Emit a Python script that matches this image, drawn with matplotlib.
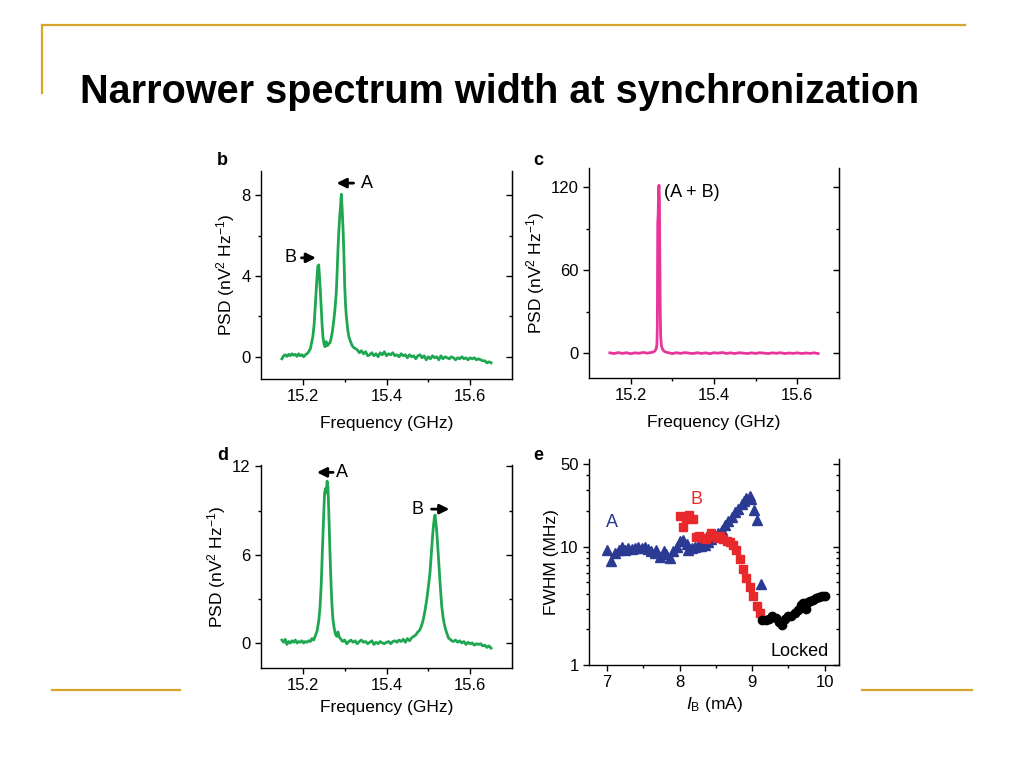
import matplotlib
matplotlib.use("Agg")
import matplotlib.pyplot as plt
from matplotlib.lines import Line2D
from matplotlib.ticker import FixedLocator, NullFormatter

plt.rcParams['font.family'] = ['Liberation Sans', 'DejaVu Sans']
plt.rcParams['mathtext.fontset'] = 'custom'
plt.rcParams['mathtext.rm'] = 'Liberation Sans'
plt.rcParams['mathtext.it'] = 'Liberation Sans:italic'
plt.rcParams['mathtext.default'] = 'regular'

# --- data ---

# panel b: two free-running oscillators
b_freq = [15.150, 15.154, 15.158, 15.162, 15.166, 15.170, 15.174, 15.178, 15.182, 15.186,
          15.190, 15.194, 15.198, 15.202, 15.206, 15.210, 15.214, 15.218, 15.221, 15.224,
          15.227, 15.230, 15.232, 15.234, 15.236, 15.238, 15.240, 15.242, 15.244, 15.246,
          15.248, 15.250, 15.253, 15.256, 15.259, 15.262, 15.265, 15.268, 15.271, 15.274,
          15.277, 15.280, 15.282, 15.284, 15.286, 15.288, 15.290, 15.292, 15.294, 15.296,
          15.298, 15.300, 15.302, 15.304, 15.307, 15.310, 15.314, 15.318, 15.322, 15.326,
          15.330, 15.335, 15.340, 15.345, 15.350, 15.355, 15.360, 15.365, 15.370, 15.375,
          15.380, 15.385, 15.390, 15.395, 15.400, 15.405, 15.410, 15.415, 15.420, 15.425,
          15.430, 15.435, 15.440, 15.445, 15.450, 15.455, 15.460, 15.465, 15.470, 15.475,
          15.480, 15.485, 15.490, 15.495, 15.500, 15.505, 15.510, 15.515, 15.520, 15.525,
          15.530, 15.535, 15.540, 15.545, 15.550, 15.555, 15.560, 15.565, 15.570, 15.575,
          15.580, 15.585, 15.590, 15.595, 15.600, 15.605, 15.610, 15.615, 15.620, 15.625,
          15.630, 15.635, 15.640, 15.645, 15.650]
b_psd = [-0.10, 0.05, 0.10, 0.02, 0.12, 0.05, 0.15, 0.08, 0.12, 0.02,
         0.15, 0.05, 0.10, 0.00, 0.10, 0.15, 0.25, 0.40, 0.70, 1.00,
         1.60, 2.60, 3.30, 4.00, 4.50, 4.55, 3.90, 3.20, 2.40, 1.60,
         1.00, 0.70, 0.50, 0.75, 0.55, 0.65, 0.70, 0.95, 1.30, 1.80,
         2.40, 3.20, 4.20, 5.30, 6.20, 6.90, 7.40, 8.05, 7.30, 6.40,
         5.20, 3.60, 2.60, 2.00, 1.40, 1.00, 0.75, 0.55, 0.45, 0.40,
         0.35, 0.20, 0.30, 0.15, 0.25, 0.05, 0.10, 0.20, 0.05, 0.15,
         0.00, 0.20, 0.10, 0.25, 0.05, 0.15, 0.10, 0.20, 0.05, 0.10,
         0.00, 0.15, 0.05, 0.10, -0.05, 0.10, 0.00, 0.05, -0.10, 0.05,
         0.10, -0.05, 0.05, -0.15, 0.00, -0.10, 0.05, -0.05, 0.00, -0.15,
         0.05, -0.10, 0.00, -0.05, -0.10, 0.00, -0.05, -0.15, -0.05, -0.10,
         0.00, -0.10, -0.05, -0.15, -0.05, -0.10, -0.05, -0.15, -0.10, -0.15,
         -0.20, -0.20, -0.30, -0.25, -0.30]

# panel c: locked (A + B)
c_freq = [15.150, 15.160, 15.170, 15.180, 15.190, 15.200, 15.210, 15.220, 15.230, 15.240,
          15.248, 15.254, 15.258, 15.261, 15.263, 15.264, 15.265, 15.266, 15.267, 15.268,
          15.269, 15.270, 15.271, 15.272, 15.274, 15.277, 15.281, 15.286, 15.292, 15.300,
          15.310, 15.320, 15.330, 15.340, 15.350, 15.360, 15.370, 15.380, 15.390, 15.400,
          15.410, 15.420, 15.430, 15.440, 15.450, 15.460, 15.470, 15.480, 15.490, 15.500,
          15.510, 15.520, 15.530, 15.540, 15.550, 15.560, 15.570, 15.580, 15.590, 15.600,
          15.610, 15.620, 15.630, 15.640, 15.650]
c_psd = [0.2, -0.3, 0.4, -0.2, 0.3, -0.4, 0.2, -0.1, 0.5, 0.0,
         0.4, 0.8, 1.5, 3.0, 6.0, 20.0, 95.0, 100.0, 118.0, 121.5,
         112.0, 70.0, 30.0, 12.0, 5.0, 2.5, 1.2, 0.6, 0.2, -0.3,
         0.3, -0.2, 0.4, 0.0, -0.3, 0.3, -0.2, 0.2, -0.4, 0.3,
         0.0, 0.4, -0.2, 0.2, -0.3, 0.3, 0.0, -0.3, 0.2, -0.2,
         0.3, 0.0, -0.3, 0.2, -0.1, 0.3, -0.3, 0.1, -0.2, 0.2,
         -0.3, 0.1, -0.2, 0.2, -0.3]

# panel d: two oscillators pulled apart
d_freq = [15.150, 15.154, 15.158, 15.162, 15.166, 15.170, 15.174, 15.178, 15.182, 15.186,
          15.190, 15.194, 15.198, 15.202, 15.206, 15.210, 15.214, 15.218, 15.222, 15.226,
          15.230, 15.234, 15.238, 15.241, 15.244, 15.247, 15.250, 15.252, 15.254, 15.256,
          15.258, 15.260, 15.262, 15.264, 15.266, 15.268, 15.270, 15.272, 15.275, 15.278,
          15.281, 15.284, 15.287, 15.290, 15.295, 15.300, 15.305, 15.310, 15.315, 15.320,
          15.325, 15.330, 15.335, 15.340, 15.345, 15.350, 15.355, 15.360, 15.365, 15.370,
          15.375, 15.380, 15.385, 15.390, 15.395, 15.400, 15.405, 15.410, 15.415, 15.420,
          15.425, 15.430, 15.435, 15.440, 15.445, 15.450, 15.455, 15.460, 15.465, 15.470,
          15.475, 15.480, 15.484, 15.488, 15.492, 15.496, 15.500, 15.504, 15.507, 15.510,
          15.512, 15.514, 15.516, 15.518, 15.520, 15.522, 15.524, 15.526, 15.528, 15.530,
          15.532, 15.535, 15.538, 15.541, 15.545, 15.548, 15.552, 15.556, 15.560, 15.565,
          15.570, 15.575, 15.580, 15.585, 15.590, 15.595, 15.600, 15.605, 15.610, 15.615,
          15.620, 15.625, 15.630, 15.635, 15.640, 15.645, 15.650]
d_psd = [0.20, 0.05, 0.25, -0.10, 0.10, 0.00, 0.15, 0.05, 0.20, 0.00,
         0.10, 0.05, 0.15, 0.00, 0.10, 0.05, 0.15, 0.10, 0.30, 0.20,
         0.50, 0.80, 1.50, 2.40, 4.00, 6.50, 8.80, 10.2, 10.5, 10.2,
         11.0, 10.6, 9.00, 7.00, 5.20, 3.60, 2.40, 1.60, 1.00, 0.60,
         0.45, 0.75, 0.40, 0.30, 0.10, 0.20, -0.05, 0.10, 0.20, 0.05,
         0.15, -0.05, 0.10, 0.20, 0.05, 0.10, -0.05, 0.05, 0.15, -0.10,
         0.05, -0.05, 0.10, 0.00, -0.05, 0.05, 0.10, -0.05, 0.10, 0.15,
         0.05, 0.20, 0.10, 0.25, 0.05, 0.30, 0.15, 0.35, 0.45, 0.55,
         0.75, 0.90, 1.20, 1.60, 2.20, 2.90, 3.80, 4.80, 6.00, 7.20,
         7.90, 8.40, 8.70, 8.20, 7.60, 6.80, 5.90, 5.00, 4.10, 3.30,
         2.50, 1.80, 1.30, 0.95, 0.60, 0.35, 0.25, 0.15, 0.10, 0.20,
         0.05, 0.15, 0.00, 0.10, -0.10, 0.05, -0.05, 0.00, -0.15, -0.05,
         -0.10, -0.05, -0.20, -0.15, -0.30, -0.20, -0.35]

# panel e: linewidth vs bias current
a_current = [7.00, 7.06, 7.11, 7.16, 7.20, 7.25, 7.29, 7.34, 7.39, 7.43,
             7.48, 7.52, 7.57, 7.61, 7.66, 7.68, 7.73, 7.78, 7.81, 7.87,
             7.91, 7.96, 8.00, 8.05, 8.10, 8.12, 8.17, 8.21, 8.26, 8.30,
             8.35, 8.39, 8.44, 8.49, 8.53, 8.58, 8.62, 8.67, 8.72, 8.76,
             8.81, 8.86, 8.89, 8.92, 8.97, 8.99, 9.03, 9.07, 9.12]
a_fwhm = [9.4, 7.6, 8.8, 9.4, 10.0, 9.4, 9.7, 9.5, 9.8, 10.0,
          9.8, 10.0, 9.5, 9.1, 8.8, 9.4, 8.2, 9.1, 8.6, 8.0,
          9.1, 10.0, 11.1, 11.3, 10.6, 9.4, 9.7, 10.0, 10.1, 10.2,
          10.4, 10.9, 11.5, 12.2, 13.1, 13.9, 15.1, 16.4, 17.8, 19.5,
          20.8, 22.7, 24.2, 25.8, 26.6, 25.3, 20.3, 16.7, 4.8]

b_current = [8.00, 8.05, 8.09, 8.13, 8.19, 8.23, 8.27, 8.32, 8.37, 8.42,
             8.44, 8.47, 8.51, 8.56, 8.60, 8.65, 8.69, 8.74, 8.78, 8.83,
             8.88, 8.92, 8.97, 9.01, 9.07, 9.11]
b_fwhm = [18.3, 14.7, 17.1, 18.5, 17.1, 12.1, 12.2, 11.8, 11.5, 12.4,
          13.0, 12.4, 11.8, 12.2, 11.5, 11.1, 10.9, 10.4, 9.4, 7.8,
          6.5, 5.4, 4.55, 3.8, 3.16, 2.77]

locked_current = [9.14, 9.19, 9.23, 9.28, 9.33, 9.37, 9.41, 9.45, 9.50, 9.54,
                  9.59, 9.63, 9.67, 9.70, 9.74, 9.77, 9.80, 9.84, 9.88, 9.92,
                  9.97, 10.00]
locked_fwhm = [2.38, 2.40, 2.44, 2.57, 2.50, 2.33, 2.18, 2.44, 2.60, 2.57,
               2.74, 2.92, 3.22, 3.35, 3.00, 3.40, 3.50, 3.55, 3.70, 3.75,
               3.80, 3.80]

GREEN = '#1fa650'
MAGENTA = '#e8349b'
BLUE = '#2b3a93'
RED = '#e8282b'
GOLD = '#d4a52a'
W, H = 1024, 768
TICK_FS = 12
LABEL_FS = 12.5
NOTE_FS = 13
ARROW = dict(arrowstyle='-|>', color='k', lw=2.0, mutation_scale=14)


def rect(left, top, right, bottom):
    # pixel box -> figure fraction
    return [left / W, 1 - bottom / H, (right - left) / W, (bottom - top) / H]


def style_axes(ax):
    ax.spines['top'].set_visible(False)
    for side in ['left', 'bottom', 'right']:
        ax.spines[side].set_linewidth(1.0)
    ax.tick_params(axis='both', which='both', direction='out', labelsize=TICK_FS,
                   width=1.0, top=False, right=False)
    ax.tick_params(which='major', length=4)
    ax.tick_params(which='minor', length=2.5)
    sec = ax.secondary_yaxis('right')
    sec.tick_params(axis='y', which='both', direction='in', labelright=False, width=1.0)
    sec.tick_params(which='major', length=4)
    sec.tick_params(which='minor', length=2.5)
    return sec


def psd_axes(rect_px, freq, psd, color, ylim, yticks, yminor, xpad):
    ax = fig.add_axes(rect(*rect_px))
    ax.plot(freq, psd, color=color, lw=2.0)
    ax.set_xlim(15.1, 15.7)
    ax.set_ylim(*ylim)
    ax.set_xticks([15.2, 15.4, 15.6])
    ax.set_xticks([15.3, 15.5], minor=True)
    ax.set_yticks(yticks)
    ax.set_yticks(yminor, minor=True)
    sec = style_axes(ax)
    sec.set_yticks(yticks)
    sec.set_yticks(yminor, minor=True)
    sec.set_yticklabels([])
    ax.set_xlabel('Frequency (GHz)', fontsize=LABEL_FS, labelpad=xpad)
    ax.set_ylabel('PSD (nV$^2$ Hz$^{-1}$)', fontsize=LABEL_FS, labelpad=3)
    return ax


fig = plt.figure(figsize=(10.24, 7.68), dpi=100)

# slide decorations
fig.add_artist(Line2D([42 / W, 965 / W], [1 - 25 / H, 1 - 25 / H], color=GOLD, lw=1.6))
fig.add_artist(Line2D([42 / W, 42 / W], [1 - 25 / H, 1 - 93 / H], color=GOLD, lw=1.6))
fig.add_artist(Line2D([52 / W, 180 / W], [1 - 690 / H, 1 - 690 / H], color=GOLD, lw=1.6))
fig.add_artist(Line2D([862 / W, 972 / W], [1 - 690 / H, 1 - 690 / H], color=GOLD, lw=1.6))

fig.text(80 / W, 1 - 103 / H, 'Narrower spectrum width at synchronization',
         fontsize=28.5, fontweight='bold', ha='left', va='baseline')

# b
ax_b = psd_axes((261, 171, 512, 379), b_freq, b_psd, GREEN, (-1.1, 9.2), [0, 4, 8], [2, 6], 8)
ax_b.annotate('', xy=(15.274, 8.6), xytext=(15.328, 8.6), arrowprops=ARROW)
ax_b.text(15.338, 8.6, 'A', fontsize=NOTE_FS, va='center', ha='left')
ax_b.text(15.171, 4.9, 'B', fontsize=NOTE_FS, va='center', ha='center')
ax_b.annotate('', xy=(15.238, 4.9), xytext=(15.190, 4.9), arrowprops=ARROW)

# c
ax_c = psd_axes((589, 168, 839, 378), c_freq, c_psd, MAGENTA, (-18, 134), [0, 60, 120], [30, 90], 8)
ax_c.text(15.281, 116, '(A + B)', fontsize=NOTE_FS, va='center', ha='left')

# d
ax_d = psd_axes((261, 465, 512, 668), d_freq, d_psd, GREEN, (-1.7, 12.1), [0, 6, 12], [3, 9], 5)
ax_d.annotate('', xy=(15.227, 11.6), xytext=(15.279, 11.6), arrowprops=ARROW)
ax_d.text(15.280, 11.6, 'A', fontsize=NOTE_FS, va='center', ha='left')
ax_d.text(15.474, 9.1, 'B', fontsize=NOTE_FS, va='center', ha='center')
ax_d.annotate('', xy=(15.557, 9.1), xytext=(15.501, 9.1), arrowprops=ARROW)

# e
ax_e = fig.add_axes(rect(589, 459, 839, 665))
ax_e.set_yscale('log')
ax_e.plot(a_current, a_fwhm, '^', color=BLUE, ms=7, mec=BLUE)
ax_e.plot(b_current, b_fwhm, 's', color=RED, ms=6, mec=RED)
ax_e.plot(locked_current, locked_fwhm, 'o', color='k', ms=6, mec='k')
ax_e.set_xlim(6.75, 10.2)
ax_e.set_ylim(1, 55)
ax_e.set_xticks([7, 8, 9, 10])
ax_e.set_xticks([7.5, 8.5, 9.5], minor=True)
major_y = [1, 10, 50]
minor_y = [2, 3, 4, 5, 6, 7, 8, 9, 20, 30, 40]
ax_e.yaxis.set_major_locator(FixedLocator(major_y))
ax_e.yaxis.set_minor_locator(FixedLocator(minor_y))
ax_e.set_yticklabels(['1', '10', '50'])
ax_e.yaxis.set_minor_formatter(NullFormatter())
sec_e = style_axes(ax_e)
sec_e.set_yscale('log')
sec_e.yaxis.set_major_locator(FixedLocator(major_y))
sec_e.yaxis.set_minor_locator(FixedLocator(minor_y))
sec_e.yaxis.set_major_formatter(NullFormatter())
sec_e.yaxis.set_minor_formatter(NullFormatter())
ax_e.set_xlabel(r'$\mathit{I}_\mathrm{B}$ (mA)', fontsize=LABEL_FS, labelpad=3)
ax_e.set_ylabel('FWHM (MHz)', fontsize=LABEL_FS, labelpad=1)
ax_e.text(7.07, 16, 'A', color=BLUE, fontsize=NOTE_FS, ha='center', va='center')
ax_e.text(8.24, 25, 'B', color=RED, fontsize=NOTE_FS, ha='center', va='center')
ax_e.text(9.65, 1.29, 'Locked', color='k', fontsize=NOTE_FS, ha='center', va='center')

# panel letters
for lx, ly, letter in [(217, 165, 'b'), (533, 165, 'c'), (217, 460, 'd'), (533, 460, 'e')]:
    fig.text(lx / W, 1 - ly / H, letter, fontsize=13, fontweight='bold', va='baseline')

fig.savefig('out.png', dpi=100)
